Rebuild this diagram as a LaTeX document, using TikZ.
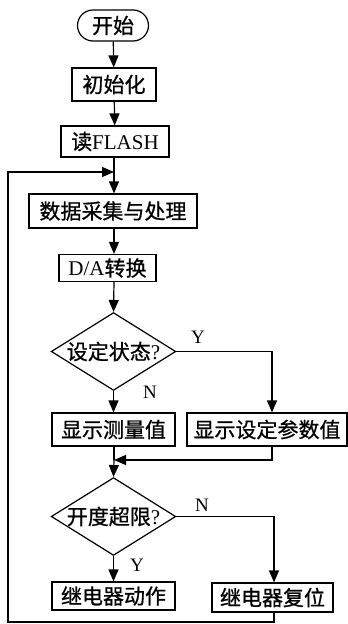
\documentclass[tikz,border=0pt]{standalone}
\usepackage{fontspec}
\setmainfont{Liberation Serif}
\newfontfamily\cjk[FakeBold=0.8]{Noto Sans CJK SC}
\usetikzlibrary{shapes.geometric,shapes.misc,arrows.meta}
\begin{document}
\begin{tikzpicture}[x=1pt,y=-1pt,
  every node/.style={font=\fontsize{21}{23}\selectfont},
  box/.style={draw,line width=1.2pt,inner sep=0pt,minimum height=32pt},
  dec/.style={draw,diamond,line width=1.2pt,inner sep=0pt,minimum width=123pt,minimum height=77pt,aspect=1.6},
  term/.style={draw,rounded rectangle,line width=1.2pt,minimum width=71pt,minimum height=31pt,inner sep=0pt},
  lab/.style={font=\fontsize{19}{21}\selectfont,inner sep=0pt},
  conn/.style={line width=1.2pt},
  arr/.style={conn,-{Triangle[length=12pt,width=10pt]}}]
\useasboundingbox (0,0) rectangle (348,624);
\node[term] (start) at (113,25.5) {\cjk 开始};
\node[box,minimum width=84pt,minimum height=33pt] (init) at (114,84.5) {\cjk 初始化};
\node[box,minimum width=108pt,minimum height=31pt] (read) at (115,141.5) {{\cjk 读}FLASH};
\node[box,minimum width=168pt,minimum height=34pt] (data) at (113,211) {\cjk 数据采集与处理};
\node[box,minimum width=97pt,minimum height=27pt] (da) at (107.5,268) {D/A{\cjk 转换}};
\node[dec] (d1) at (113.5,351.5) {{\cjk 设定状态}?};
\node[box,minimum width=123pt,minimum height=33pt] (show1) at (113.5,429.5) {\cjk 显示测量值};
\node[box,minimum width=160pt,minimum height=33pt] (show2) at (267,429.5) {\cjk 显示设定参数值};
\node[dec] (d2) at (113.5,516.5) {{\cjk 开度超限}?};
\node[box,minimum width=123pt,minimum height=28pt] (relay1) at (113.5,596) {\cjk 继电器动作};
\node[box,minimum width=121pt,minimum height=29pt] (relay2) at (272.5,597.5) {\cjk 继电器复位};
\node[lab] (y1) at (198,337) {Y};
\node[lab] (n1) at (150,392) {N};
\node[lab] (n2) at (202,505) {N};
\node[lab] (y2) at (137,565) {Y};
\coordinate (j1) at (114,172);
\coordinate (j2) at (114,460);
\coordinate (c1) at (272,351.5);
\coordinate (c2) at (274,516.5);
\coordinate (b) at (8,622);
\draw[arr] (start) -- (init);
\draw[arr] (init) -- (read);
\draw[conn] (read.south -| j1) -- (j1);
\draw[arr] (j1) -- (data.north -| j1);
\draw[arr] (data.south -| j1) -- (da.north -| j1);
\draw[arr] (da.south -| j1) -- (d1.north);
\draw[arr] (d1.south) -- (show1.north);
\draw[arr] (d1.east) -- (c1) -- (c1 |- show2.north);
\draw[arr] (c1 |- show2.south) |- (j2);
\draw[conn] (show1.south -| j2) -- (j2);
\draw[arr] (j2) -- (d2.north);
\draw[arr] (d2.south) -- (relay1.north);
\draw[arr] (d2.east) -- (c2) -- (c2 |- relay2.north);
\draw[conn] (relay1.south -| j1) -- (relay1.south -| j1 |- b);
\draw[arr] (c2 |- relay2.south) |- (b) |- (j1);
\end{tikzpicture}
\end{document}
